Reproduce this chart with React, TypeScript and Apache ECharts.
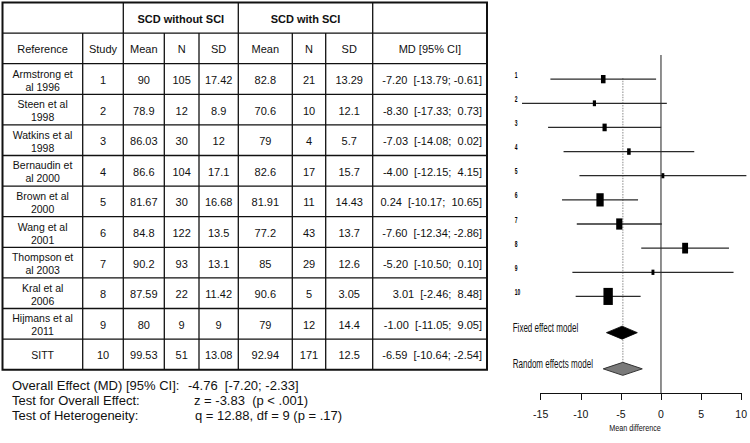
import React, { useEffect, useRef } from "react";
import * as echarts from "echarts";

// ---------- data ----------
const references = [
  "Armstrong et\nal 1996",
  "Steen et al\n1998",
  "Watkins et al\n1998",
  "Bernaudin et\nal 2000",
  "Brown et al\n2000",
  "Wang et al\n2001",
  "Thompson et\nal 2003",
  "Kral et al\n2006",
  "Hijmans et al\n2011",
  "SITT",
];
const studyIds = [1, 2, 3, 4, 5, 6, 7, 8, 9, 10];
const meanNoSci = ["90", "78.9", "86.03", "86.6", "81.67", "84.8", "90.2", "87.59", "80", "99.53"];
const nNoSci = ["105", "12", "30", "104", "30", "122", "93", "22", "9", "51"];
const sdNoSci = ["17.42", "8.9", "12", "17.1", "16.68", "13.5", "13.1", "11.42", "9", "13.08"];
const meanSci = ["82.8", "70.6", "79", "82.6", "81.91", "77.2", "85", "90.6", "79", "92.94"];
const nSci = ["21", "10", "4", "17", "11", "43", "29", "5", "12", "171"];
const sdSci = ["13.29", "12.1", "5.7", "15.7", "14.43", "13.7", "12.6", "3.05", "14.4", "12.5"];
const md = [-7.2, -8.3, -7.03, -4.0, 0.24, -7.6, -5.2, 3.01, -1.0, -6.59];
const ciLow = [-13.79, -17.33, -14.08, -12.15, -10.17, -12.34, -10.5, -2.46, -11.05, -10.64];
const ciHigh = [-0.61, 0.73, 0.02, 4.15, 10.65, -2.86, 0.1, 8.48, 9.05, -2.54];

const groupHeaders = ["SCD without SCI", "SCD with SCI"];
const colHeaders = ["Reference", "Study", "Mean", "N", "SD", "Mean", "N", "SD", "MD [95% CI]"];

const modelLabels = ["Fixed effect model", "Random effects model"];
const modelMd = [-4.85, -4.76];
const modelLow = [-6.8, -7.2];
const modelHigh = [-2.95, -2.33];
const modelRows = [11.5, 13];

const xTicks = [-15, -10, -5, 0, 5, 10];
const xAxisTitle = "Mean difference";

const summaryLabels = ["Overall Effect (MD) [95% CI]:", "Test for Overall Effect:", "Test of Heterogeneity:"];
const summaryValues = ["-4.76  [-7.20; -2.33]", "z = -3.83  (p < .001)", "q = 12.88, df = 9 (p = .17)"];

// ---------- layout ----------
const COL_X = [2.5, 82.7, 123.3, 164.3, 199, 238.3, 292.3, 325.7, 372.7, 487];
const ROW_TOP = 2.5;
const ROW_H = 30.6;
const N_ROWS = 12;
const FONT = "'Liberation Sans', Arial, sans-serif";
const NARROW = "'Liberation Sans Narrow', 'Liberation Sans', Arial, sans-serif";
const INK = "#111";

const fmt = (v: number) => v.toFixed(2);
const mdText = (i: number) =>
  `${fmt(md[i])}  [${fmt(ciLow[i])}; ${ciHigh[i] >= 0 ? " " : ""}${fmt(ciHigh[i])}]`;

function txt(text: string, x: number, y: number, font: string, align = "center", extra: any = {}) {
  return {
    type: "text",
    x,
    y,
    silent: true,
    ...extra,
    style: {
      text,
      font,
      fill: INK,
      align,
      verticalAlign: "middle",
      textAlign: align,
      textVerticalAlign: "middle",
      lineHeight: 13,
    },
  };
}

function buildTable() {
  const g: any[] = [];
  const bottom = ROW_TOP + ROW_H * N_ROWS;
  const left = COL_X[0];
  const right = COL_X[COL_X.length - 1];
  for (let r = 1; r < N_ROWS; r++) {
    const y = ROW_TOP + ROW_H * r;
    g.push({ type: "line", silent: true, shape: { x1: left, y1: y, x2: right, y2: y }, style: { stroke: INK, lineWidth: 1.3 } });
  }
  for (let c = 1; c < COL_X.length - 1; c++) {
    const full = c === 2 || c === 5 || c === 8;
    const y1 = full ? ROW_TOP : ROW_TOP + ROW_H;
    g.push({ type: "line", silent: true, shape: { x1: COL_X[c], y1, x2: COL_X[c], y2: bottom }, style: { stroke: INK, lineWidth: 1.3 } });
  }
  g.push({
    type: "rect",
    silent: true,
    shape: { x: left, y: ROW_TOP, width: right - left, height: bottom - ROW_TOP },
    style: { fill: "none", stroke: INK, lineWidth: 2 },
  });
  const cy = (r: number) => ROW_TOP + ROW_H * (r + 0.5) + 1;
  const cx = (c: number) => (COL_X[c] + COL_X[c + 1]) / 2;
  g.push(txt(groupHeaders[0], (COL_X[2] + COL_X[5]) / 2, cy(0), `bold 11px ${FONT}`));
  g.push(txt(groupHeaders[1], (COL_X[5] + COL_X[8]) / 2, cy(0), `bold 11px ${FONT}`));
  colHeaders.forEach((h, c) => g.push(txt(h, cx(c), cy(1), `11px ${FONT}`)));
  references.forEach((ref, i) => {
    const r = i + 2;
    const cells = [ref, String(studyIds[i]), meanNoSci[i], nNoSci[i], sdNoSci[i], meanSci[i], nSci[i], sdSci[i]];
    cells.forEach((t, c) => g.push(txt(t, cx(c), cy(r), `${c === 0 ? 10.5 : 11}px ${FONT}`)));
    g.push(txt(mdText(i), COL_X[9] - 5, cy(r), `11px ${FONT}`, "right"));
  });
  const sx = [12, 188, 194, 195];
  summaryLabels.forEach((s, i) => {
    const y = 385 + i * 15;
    g.push(txt(s, sx[0], y, `13px ${FONT}`, "left"));
    g.push(txt(summaryValues[i], sx[i + 1], y, `13px ${FONT}`, "left"));
  });
  g.push(txt(xAxisTitle, 635, 428, `9.5px ${FONT}`, "center", { scaleX: 0.76 }));
  return g;
}

const weights = md.map((_, i) => {
  const se = (ciHigh[i] - ciLow[i]) / 3.92;
  return 1 / (se * se);
});

export default function App() {
  const ref = useRef<HTMLDivElement>(null);
  useEffect(() => {
    if (!ref.current) return;
    const chart = echarts.init(ref.current, undefined, { renderer: "svg" });
    const option: any = {
      animation: false,
      backgroundColor: "#fff",
      grid: { left: 540.7, right: 7, top: 55, bottom: 50 },
      xAxis: {
        type: "value",
        min: xTicks[0],
        max: xTicks[xTicks.length - 1],
        interval: 5,
        axisLine: { show: true, onZero: false, lineStyle: { color: INK, width: 1 } },
        axisTick: { show: true, length: 7, lineStyle: { color: INK, width: 1 } },
        axisLabel: { fontSize: 10.5, fontFamily: NARROW, color: INK, margin: 15 },
        splitLine: { show: false },
      },
      yAxis: { type: "value", min: 0, max: 14, inverse: true, show: false },
      graphic: buildTable(),
      series: [
        {
          type: "custom",
          clip: false,
          silent: true,
          data: [[0, modelMd[1]]],
          encode: { x: [0, 1] },
          renderItem: (params: any, api: any) => {
            const z0 = api.coord([0, 0]);
            const z1 = api.coord([0, 14]);
            const d0 = api.coord([modelMd[1], 0.95]);
            const d1 = api.coord([modelMd[1], 12.75]);
            return {
              type: "group",
              children: [
                { type: "line", shape: { x1: d0[0], y1: d0[1], x2: d1[0], y2: d1[1] }, style: { stroke: "#b5b5b5", lineWidth: 1.6, lineDash: [1.5, 1.2] } },
                { type: "line", shape: { x1: z0[0], y1: z0[1], x2: z1[0], y2: z1[1] }, style: { stroke: "#333", lineWidth: 1.1 } },
              ],
            };
          },
        },
        {
          type: "custom",
          clip: false,
          silent: true,
          data: md.map((m, i) => [m, ciLow[i], ciHigh[i], studyIds[i]]),
          encode: { x: [0, 1, 2], y: 3 },
          renderItem: (params: any, api: any) => {
            const i = params.dataIndex;
            const row = studyIds[i];
            const a = api.coord([ciLow[i], row]);
            const b = api.coord([ciHigh[i], row]);
            const c = api.coord([md[i], row]);
            const edge = api.coord([xTicks[0], row]);
            const h = 3 + 60 * weights[i];
            const w = h * 0.55;
            return {
              type: "group",
              children: [
                { type: "line", shape: { x1: a[0], y1: a[1], x2: b[0], y2: b[1] }, style: { stroke: "#2a2a2a", lineWidth: 1.3 } },
                { type: "rect", shape: { x: c[0] - w / 2, y: c[1] - h / 2, width: w, height: h }, style: { fill: "#000" } },
                {
                  type: "text",
                  x: edge[0] - 26,
                  y: edge[1] - 4.5,
                  scaleX: 0.55,
                  style: { text: String(row), font: `bold 9px ${FONT}`, fill: "#000", align: "left", verticalAlign: "middle", textAlign: "left", textVerticalAlign: "middle" },
                },
              ],
            };
          },
        },
        {
          type: "custom",
          clip: false,
          silent: true,
          data: modelMd.map((m, i) => [m, modelLow[i], modelHigh[i], modelRows[i]]),
          encode: { x: [0, 1, 2], y: 3 },
          renderItem: (params: any, api: any) => {
            const i = params.dataIndex;
            const row = modelRows[i];
            const l = api.coord([modelLow[i], row]);
            const r = api.coord([modelHigh[i], row]);
            const c = api.coord([modelMd[i], row]);
            const edge = api.coord([xTicks[0], row]);
            const hh = 6.5;
            return {
              type: "group",
              children: [
                {
                  type: "polygon",
                  shape: { points: [[l[0], l[1]], [c[0], c[1] - hh], [r[0], r[1]], [c[0], c[1] + hh]] },
                  style: i === 0 ? { fill: "#000", stroke: "#000", lineWidth: 0.8 } : { fill: "#7a7a7a", stroke: "#333", lineWidth: 1 },
                },
                {
                  type: "text",
                  x: edge[0] - 28,
                  y: edge[1] - 5,
                  scaleX: 0.67,
                  style: { text: modelLabels[i], font: `12px ${FONT}`, fill: INK, align: "left", verticalAlign: "middle", textAlign: "left", textVerticalAlign: "middle" },
                },
              ],
            };
          },
        },
      ],
    };
    chart.setOption(option);
    return () => chart.dispose();
  }, []);
  return <div ref={ref} style={{ position: "fixed", left: 0, top: 0, width: 750, height: 443, background: "#fff" }} />;
}
